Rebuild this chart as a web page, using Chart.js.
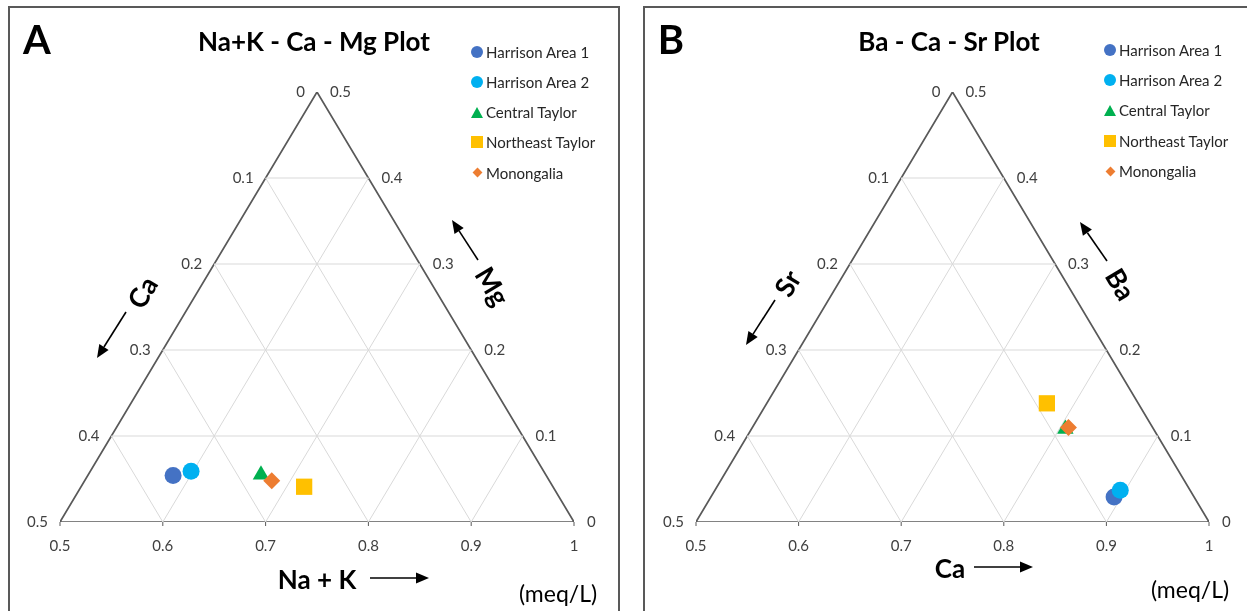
<!DOCTYPE html>
<html>
<head>
<meta charset="utf-8">
<title>Ternary plots</title>
<script src="https://cdn.jsdelivr.net/npm/chart.js@4.4.1/dist/chart.umd.min.js"></script>
<style>
  html, body { margin: 0; padding: 0; background: #fff; }
  body { width: 1247px; height: 611px; position: relative; overflow: hidden; font-family: Lato, 'Open Sans', sans-serif; }
  .panel { position: absolute; box-sizing: border-box; border: 2px solid #595959; }
  canvas { position: absolute; top: 0; }
  .lbl { position: absolute; white-space: nowrap; line-height: 1; color: #000; }
  .leg { position: absolute; white-space: nowrap; line-height: 1; font-size: 15px; color: #262626; }
  .mk { position: absolute; }
</style>
</head>
<body>
<div class="panel" style="left:8px; top:6px; width:612px; height:640px;"></div>
<div class="panel" style="left:643px; top:6px; width:640px; height:640px;"></div>
<canvas id="chart-a" width="627" height="611" style="left:0;"></canvas>
<canvas id="chart-b" width="620" height="611" style="left:627px;"></canvas>
<div id="labels"></div>
<script>
  // series (same order in both plots)
  var seriesNames = ['Harrison Area 1', 'Harrison Area 2', 'Central Taylor', 'Northeast Taylor', 'Monongalia'];
  var seriesColors = ['#4472C4', '#00B0F0', '#00B050', '#FFC000', '#ED7D31'];
  var seriesMarkers = ['circle', 'circle', 'triangle', 'rect', 'rectRot'];
  var markerRadius = [8.5, 8.5, 9.5, 11.5, 8.5];

  // plot A: fractions (meq/L), Na+K + Ca + Mg = 1
  var naK = [0.583, 0.598, 0.668, 0.717, 0.682];
  var caA = [0.363, 0.343, 0.277, 0.242, 0.270];
  var mg  = [0.054, 0.059, 0.055, 0.041, 0.048];

  // plot B: fractions (meq/L), Ca + Sr + Ba = 1
  var caB = [0.893, 0.895, 0.806, 0.773, 0.808];
  var sr  = [0.078, 0.068, 0.086, 0.089, 0.082];
  var ba  = [0.029, 0.037, 0.108, 0.138, 0.110];

  // axis ticks
  var bottomTicks = [0.5, 0.6, 0.7, 0.8, 0.9, 1];
  var leftTicks = [0, 0.1, 0.2, 0.3, 0.4, 0.5];
  var rightTicks = [0, 0.1, 0.2, 0.3, 0.4, 0.5];
  var gridSteps = [0.1, 0.2, 0.3, 0.4];

  // bottom component b, right component r -> cartesian (left component is implied)
  function proj(b, r) {
    return { x: b + r / 2, y: r };
  }

  function lineSet(points, color, width) {
    return {
      data: points, showLine: true, borderColor: color, borderWidth: width,
      pointRadius: 0, pointHoverRadius: 0, fill: false, order: 20
    };
  }

  function buildDatasets(bottom, right) {
    var sets = [];
    gridSteps.forEach(function (t) {
      // constant right component (horizontal)
      sets.push(lineSet([proj(0.5, t), proj(1 - t, t)], '#D9D9D9', 1));
      // constant bottom component
      var n = 0.5 + t;
      sets.push(lineSet([proj(n, 0), proj(n, 1 - n)], '#D9D9D9', 1));
      // constant left component
      sets.push(lineSet([proj(1 - t, 0), proj(0.5, 0.5 - t)], '#D9D9D9', 1));
    });
    sets.push(lineSet([proj(0.5, 0), proj(1, 0), proj(0.5, 0.5), proj(0.5, 0)], '#595959', 1.7));
    seriesNames.forEach(function (name, i) {
      sets.push({
        label: name,
        data: [proj(bottom[i], right[i])],
        pointStyle: seriesMarkers[i],
        pointRadius: markerRadius[i],
        pointHoverRadius: markerRadius[i],
        backgroundColor: seriesColors[i],
        borderColor: seriesColors[i],
        borderWidth: 0,
        order: seriesNames.length - i
      });
    });
    return sets;
  }

  var tickLabels = {
    id: 'tickLabels',
    afterDatasetsDraw: function (chart) {
      var ctx = chart.ctx;
      var xs = chart.scales.x, ys = chart.scales.y;
      function px(p) { return { x: xs.getPixelForValue(p.x), y: ys.getPixelForValue(p.y) }; }
      ctx.save();
      ctx.fillStyle = '#404040';
      ctx.strokeStyle = '#595959';
      ctx.lineWidth = 1;
      ctx.font = '15px Lato, sans-serif';
      ctx.textBaseline = 'middle';
      ctx.textAlign = 'right';
      leftTicks.forEach(function (v) {
        var p = px(proj(0.5, 0.5 - v));
        ctx.fillText(String(v), p.x - 12, p.y);
      });
      ctx.textAlign = 'left';
      rightTicks.forEach(function (v) {
        var p = px(proj(1 - v, v));
        ctx.fillText(String(v), p.x + 13, p.y);
      });
      ctx.textAlign = 'center';
      bottomTicks.forEach(function (v) {
        var p = px(proj(v, 0));
        ctx.beginPath();
        ctx.moveTo(p.x, p.y);
        ctx.lineTo(p.x, p.y + 4);
        ctx.stroke();
        ctx.fillText(String(v), p.x, p.y + 24);
      });
      ctx.restore();
    }
  };

  function makeChart(id, bottom, right, pad) {
    return new Chart(document.getElementById(id), {
      type: 'scatter',
      data: { datasets: buildDatasets(bottom, right) },
      options: {
        responsive: false,
        animation: false,
        layout: { padding: pad },
        scales: {
          x: { type: 'linear', min: 0.5, max: 1, display: false },
          y: { type: 'linear', min: 0, max: 0.5, display: false }
        },
        plugins: { legend: { display: false }, tooltip: { enabled: false } }
      },
      plugins: [tickLabels]
    });
  }

  makeChart('chart-a', naK, mg, { left: 60, right: 53, top: 92, bottom: 89 });
  makeChart('chart-b', caB, ba, { left: 69, right: 38, top: 92, bottom: 89 });

  // text labels and arrows
  var labelsEl = document.getElementById('labels');
  function addLabel(text, cx, cy, size, bold, rot, color) {
    var d = document.createElement('div');
    d.className = 'lbl';
    d.textContent = text;
    d.style.left = cx + 'px';
    d.style.top = cy + 'px';
    d.style.fontSize = size + 'px';
    d.style.fontWeight = bold ? '700' : '400';
    if (color) d.style.color = color;
    d.style.transform = 'translate(-50%,-50%) rotate(' + (rot || 0) + 'deg)';
    labelsEl.appendChild(d);
  }
  function addArrow(x1, y1, x2, y2) {
    var svgNS = 'http://www.w3.org/2000/svg';
    var svg = document.createElementNS(svgNS, 'svg');
    svg.setAttribute('width', '1247');
    svg.setAttribute('height', '611');
    svg.style.position = 'absolute';
    svg.style.left = '0';
    svg.style.top = '0';
    var ang = Math.atan2(y2 - y1, x2 - x1);
    var hl = 13, hw = 5.5;
    var bx = x2 - hl * Math.cos(ang), by = y2 - hl * Math.sin(ang);
    var line = document.createElementNS(svgNS, 'line');
    line.setAttribute('x1', x1); line.setAttribute('y1', y1);
    line.setAttribute('x2', bx); line.setAttribute('y2', by);
    line.setAttribute('stroke', '#000'); line.setAttribute('stroke-width', '1.6');
    var head = document.createElementNS(svgNS, 'polygon');
    var pts = [
      [x2, y2],
      [bx + hw * Math.sin(ang), by - hw * Math.cos(ang)],
      [bx - hw * Math.sin(ang), by + hw * Math.cos(ang)]
    ].map(function (p) { return p[0].toFixed(1) + ',' + p[1].toFixed(1); }).join(' ');
    head.setAttribute('points', pts);
    head.setAttribute('fill', '#000');
    svg.appendChild(line);
    svg.appendChild(head);
    labelsEl.appendChild(svg);
  }

  // panel A
  addLabel('A', 37, 39, 40, true);
  addLabel('Na+K - Ca - Mg Plot', 314, 41, 26, true);
  addLabel('Ca', 142, 292, 27, true, -59);
  addArrow(126, 312, 97, 358);
  addLabel('Mg', 493, 286, 27, true, 59);
  addArrow(478, 260, 452, 220);
  addLabel('Na + K', 317, 579, 26, true);
  addArrow(370, 578, 429, 578);
  addLabel('(meq/L)', 558, 593, 23, false);

  // panel B
  addLabel('B', 671, 39, 40, true);
  addLabel('Ba - Ca - Sr Plot', 949, 41, 26, true);
  addLabel('Sr', 787, 283, 27, true, -59);
  addArrow(775, 300, 746, 345);
  addLabel('Ba', 1121, 284, 27, true, 59);
  addArrow(1107, 261, 1080, 222);
  addLabel('Ca', 950, 568, 26, true);
  addArrow(974, 567, 1033, 567);
  addLabel('(meq/L)', 1190, 589, 23, false);

  // legends
  function markerEl(kind, color, cx, cy) {
    var m = document.createElement('div');
    m.className = 'mk';
    if (kind === 'circle') {
      m.style.width = '12px'; m.style.height = '12px'; m.style.borderRadius = '50%';
      m.style.background = color; m.style.left = (cx - 6) + 'px'; m.style.top = (cy - 6) + 'px';
    } else if (kind === 'rect') {
      m.style.width = '12px'; m.style.height = '12px';
      m.style.background = color; m.style.left = (cx - 6) + 'px'; m.style.top = (cy - 6) + 'px';
    } else if (kind === 'rectRot') {
      m.style.width = '7px'; m.style.height = '7px'; m.style.transform = 'rotate(45deg)';
      m.style.background = color; m.style.left = (cx - 3.5) + 'px'; m.style.top = (cy - 3.5) + 'px';
    } else {
      m.style.width = '0'; m.style.height = '0';
      m.style.borderLeft = '6px solid transparent';
      m.style.borderRight = '6px solid transparent';
      m.style.borderBottom = '11px solid ' + color;
      m.style.left = (cx - 6) + 'px'; m.style.top = (cy - 5.5) + 'px';
    }
    labelsEl.appendChild(m);
  }
  function addLegend(mx, tx, y0, step) {
    seriesNames.forEach(function (name, i) {
      var cy = y0 + i * step;
      markerEl(seriesMarkers[i], seriesColors[i], mx, cy);
      var t = document.createElement('div');
      t.className = 'leg';
      t.textContent = name;
      t.style.left = tx + 'px';
      t.style.top = cy + 'px';
      t.style.transform = 'translateY(-50%)';
      labelsEl.appendChild(t);
    });
  }
  addLegend(477, 486, 51.5, 30.3);
  addLegend(1110, 1119, 49.5, 30.4);
</script>
</body>
</html>
